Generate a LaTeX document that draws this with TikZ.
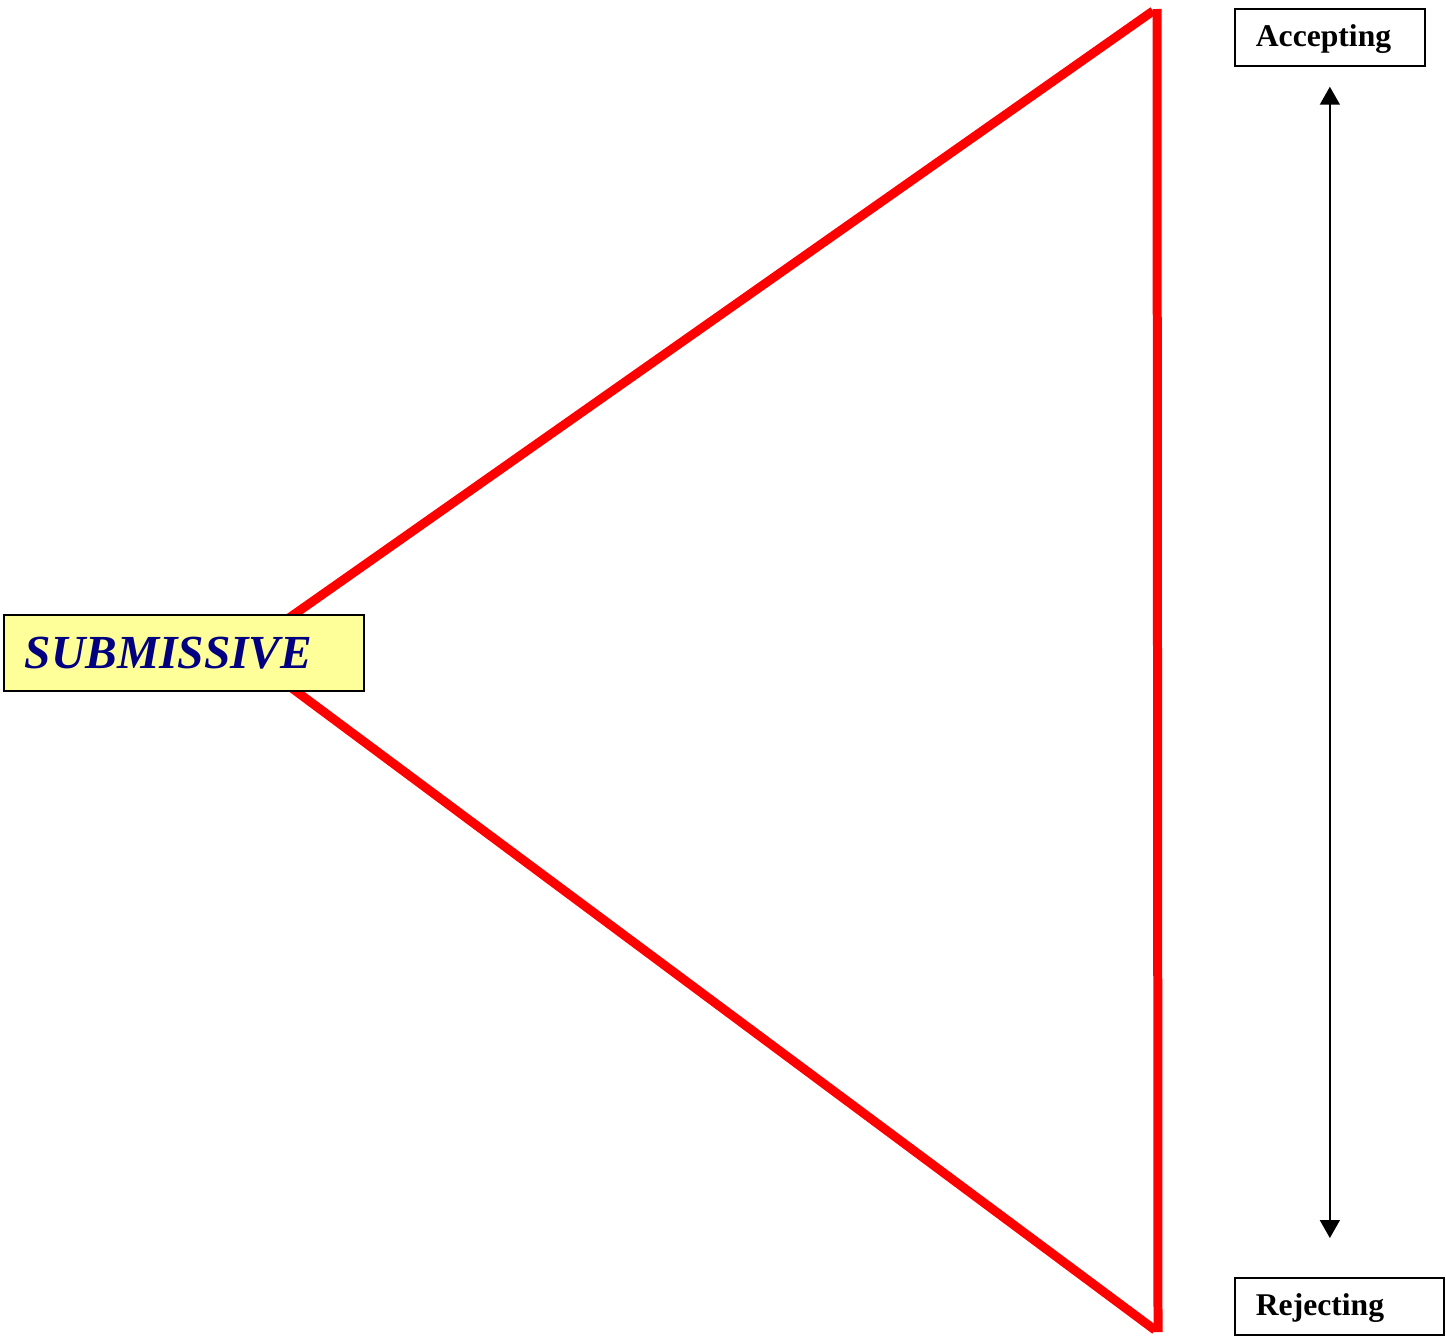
\documentclass[tikz,border=0pt]{standalone}
\usepackage{fontspec}
\setmainfont{Liberation Serif}
\usetikzlibrary{arrows.meta,positioning}
\definecolor{subnavy}{RGB}{0,0,128}
\definecolor{subyellow}{RGB}{255,255,153}

\begin{document}
\begin{tikzpicture}[x=0.02cm,y=-0.02cm,>={Triangle[width=4mm,length=3.6mm]},
  endbox/.style={draw,line width=1pt,anchor=north west,minimum height=1.14cm,inner xsep=0.42cm,text height=0.5cm,text depth=0.12cm,align=left,font=\fontsize{18}{20}\selectfont\bfseries},
  side/.style={red,line width=0.18cm}]
\useasboundingbox (0,0) rectangle (1446,1342);
\coordinate (apex) at (242,651);
\coordinate (top) at (1157,9);
\coordinate (bot) at (1158,1332);
\draw[side] (apex) -- (1153,11);
\draw[side] (apex) -- (1155,1330);
\draw[side] (top) -- (bot);
\node[draw,fill=subyellow,line width=1pt,anchor=north west,minimum width=7.2cm,minimum height=1.52cm,inner xsep=0.42cm,text width=6.36cm,align=left,text=subnavy,font=\fontsize{27}{30}\selectfont\bfseries\itshape] (sub) at (3,614) {SUBMISSIVE};
\node[endbox,text width=2.96cm] (acc) at (1234,8) {Accepting};
\node[endbox,text width=3.34cm] (rej) at (1234,1277) {Rejecting};
\draw[<->,line width=0.85pt,shorten <=0.4cm,shorten >=0.78cm] (acc.south) -- (acc.south |- rej.north);
\end{tikzpicture}
\end{document}
